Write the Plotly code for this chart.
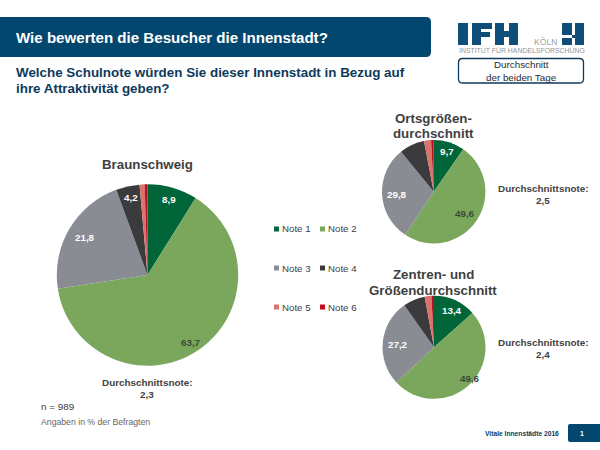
import plotly.graph_objects as go

W, H = 600, 450
notes = ["Note 1", "Note 2", "Note 3", "Note 4", "Note 5", "Note 6"]
colors = ["#00663a", "#7aa75c", "#8a8c93", "#3b3b3e", "#d9736c", "#c00d1e"]
braunschweig = [8.9, 63.7, 21.8, 4.2, 0.9, 0.5]
ortsgroesse = [9.7, 49.6, 29.8, 7.9, 2.2, 0.8]
zentren = [13.4, 49.6, 27.2, 6.9, 2.1, 0.8]


def px(x):
    return x / W


def py(y):
    return 1 - y / H


def pie(values, cx, cy, r):
    return go.Pie(
        labels=notes, values=values, sort=False, direction="clockwise", rotation=0,
        marker=dict(colors=colors, line=dict(width=0)), textinfo="none", hoverinfo="label+value",
        showlegend=False,
        domain=dict(x=[px(cx - r), px(cx + r)], y=[py(cy + r), py(cy - r)]),
    )


fig = go.Figure([
    pie(braunschweig, 147.5, 275, 90.7),
    pie(ortsgroesse, 433.7, 191.7, 51.7),
    pie(zentren, 434, 347.3, 51.5),
])

FONT = "Liberation Sans"
annotations = []


def text(x, y, s, size, color, bold=False, align="center", anchor="center"):
    annotations.append(dict(
        x=px(x), y=py(y), xref="paper", yref="paper", text=f"<b>{s}</b>" if bold else s,
        showarrow=False, align=align, xanchor=anchor, yanchor="middle",
        font=dict(family=FONT, size=size, color=color), borderpad=0, borderwidth=0,
    ))


def val(v):
    return f"{v:.1f}".replace(".", ",")


shapes = []


def rect(x0, y0, x1, y1, color):
    shapes.append(dict(type="rect", xref="paper", yref="paper", x0=px(x0), x1=px(x1),
                       y0=py(y1), y1=py(y0), fillcolor=color, line=dict(width=0), layer="above"))


def rounded(x0, y0, x1, y1, rad, fill, line=None, lw=0):
    p = (f"M{px(x0)},{py(y0+rad)} Q{px(x0)},{py(y0)} {px(x0+rad)},{py(y0)} "
         f"L{px(x1-rad)},{py(y0)} Q{px(x1)},{py(y0)} {px(x1)},{py(y0+rad)} "
         f"L{px(x1)},{py(y1-rad)} Q{px(x1)},{py(y1)} {px(x1-rad)},{py(y1)} "
         f"L{px(x0+rad)},{py(y1)} Q{px(x0)},{py(y1)} {px(x0)},{py(y1-rad)} Z")
    shapes.append(dict(type="path", xref="paper", yref="paper", path=p, fillcolor=fill,
                       line=dict(width=lw, color=line or fill), layer="below"))


NAVY = "#03476f"
DARK = "#0d3a5c"
GREY = "#3f3f3f"

# header
rounded(-8, 17, 431, 57, 5, NAVY)
text(16, 37.5, "Wie bewerten die Besucher die Innenstadt?", 15.1, "white", True, anchor="left")
text(16, 72.5, "Welche Schulnote würden Sie dieser Innenstadt in Bezug auf", 13.4, DARK, True, anchor="left")
text(16, 88, "ihre Attraktivität geben?", 13.4, DARK, True, anchor="left")

# logo
LOGO = "#0e4e78"
for x0, y0, x1, y1 in [
    (458, 23, 468, 45),
    (472, 23, 481, 45), (481, 23, 492, 29), (481, 32, 490, 37),
    (495, 23, 504, 45), (504, 31, 509, 37), (509, 23, 518, 45),
    (562, 23, 572, 35), (562, 38, 572, 45),
    (575, 23, 584, 45), (572, 35, 575, 38),
]:
    rect(x0, y0, x1, y1, LOGO)
text(545, 42, "KÖLN", 8.6, "#9a9fa5")
text(521.5, 50.7, "INSTITUT FÜR HANDELSFORSCHUNG", 6.9, "#8f969c")
rounded(458.5, 58.5, 583.5, 83, 4, "white", DARK, 1.3)
text(521, 65, "Durchschnitt", 9.8, "#1d2b36")
text(521, 77, "der beiden Tage", 9.8, "#1d2b36")

# chart titles
text(147, 164.5, "Braunschweig", 13.3, GREY, True)
text(433.5, 118, "Ortsgrößen-", 13.3, GREY, True)
text(433.5, 134, "durchschnitt", 13.3, GREY, True)
text(433, 274, "Zentren- und", 13.3, GREY, True)
text(433, 290, "Größendurchschnitt", 13.3, GREY, True)

# slice values
for series, xy in [
    (braunschweig, [(169.5, 199), (190.5, 342), (85, 238), (131, 197.5)]),
    (ortsgroesse, [(446.5, 151.5), (464.5, 213.5), (397, 194)]),
    (zentren, [(452, 310.5), (470, 378), (398, 344)]),
]:
    for i, (x, y) in enumerate(xy):
        colr = "#3a4a3a" if i == 1 else "white"
        text(x, y, val(series[i]), 9.8, colr, True)

# average notes
text(147, 382.5, "Durchschnittsnote:", 9.9, GREY, True)
text(147, 394.5, "2,3", 9.9, GREY, True)
text(543, 188.5, "Durchschnittsnote:", 9.9, GREY, True)
text(543, 200.5, "2,5", 9.9, GREY, True)
text(543, 342, "Durchschnittsnote:", 9.9, GREY, True)
text(543, 354, "2,4", 9.9, GREY, True)

# legend
leg_x = [274, 320]
leg_y = [229, 268, 307]
for i, name in enumerate(notes):
    x = leg_x[i % 2]
    y = leg_y[i // 2]
    rect(x, y - 2.5, x + 5, y + 2.5, colors[i])
    text(x + 7.7, y, name, 9.7, "#404040", anchor="left")

# footnotes
text(41, 406.5, "n = 989", 9.9, "#404040", anchor="left")
text(41, 422, "Angaben in % der Befragten", 8.7, "#666666", anchor="left")

# footer
text(522, 433, "Vitale Innenstädte 2016", 6.7, DARK, True)
rounded(568, 424, 606, 442, 2, NAVY)
text(582, 433, "1", 6.9, "white", True)

fig.update_layout(
    width=W, height=H, margin=dict(l=0, r=0, t=0, b=0), paper_bgcolor="white",
    plot_bgcolor="white", showlegend=False, annotations=annotations, shapes=shapes,
    font=dict(family=FONT),
)
fig.write_html("out.html", config=dict(displayModeBar=False),
               post_script="document.body.style.margin='0';document.documentElement.style.overflow='hidden';")
